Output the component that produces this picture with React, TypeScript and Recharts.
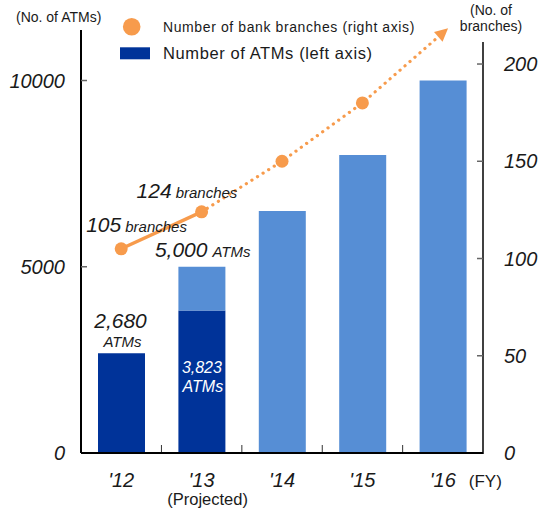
import { ComposedChart, Bar, Line, XAxis, YAxis, LabelList } from "recharts"

const years = ["'12", "'13", "'14", "'15", "'16"]
const atmsActual = [2680, 3823, 0, 0, 0]
const atmsPlanned = [0, 1177, 6500, 8000, 10000]
const atmsTotal = [2680, 5000, 6500, 8000, 10000]
const branchesActual = [105, 124, null, null, null]
const branchesPlanned = [null, 124, 150, 180, 216]
const leftTicks = [0, 5000, 10000]
const rightTicks = [0, 50, 100, 150, 200]

const colors = {
  dark: "#003399",
  light: "#568ED5",
  orange: "#F79B4C",
  text: "#1a1a1a",
}

const font = "'Liberation Sans', Arial, sans-serif"

const data = years.map((year, i) => ({
  year,
  atmsActual: atmsActual[i],
  atmsPlanned: atmsPlanned[i],
  branchesActual: branchesActual[i],
  branchesPlanned: branchesPlanned[i],
}))

const fmt = (v: number) => v.toLocaleString("en-US")

// labels may skip empty bars, so find the category from the payload (or the value)
function box(p: any, series: (number | null)[]) {
  const vb = p.viewBox || {}
  let index = years.indexOf(p.payload?.year)
  if (index < 0) {
    const v = Array.isArray(p.value) ? p.value[1] - p.value[0] : p.value
    index = series.indexOf(v)
  }
  return {
    x: p.x ?? vb.x ?? 0,
    y: p.y ?? vb.y ?? 0,
    width: p.width ?? vb.width ?? 0,
    index,
  }
}

function ActualBarLabel(p: any) {
  const { x, y, width, index } = box(p, atmsActual)
  const cx = x + width / 2
  if (index === 0) {
    return (
      <g fontFamily={font} fontStyle="italic" fill={colors.text} textAnchor="middle">
        <text x={cx - 1} y={y - 25} fontSize={21}>{fmt(atmsActual[0])}</text>
        <text x={cx + 1} y={y - 6} fontSize={15}>ATMs</text>
      </g>
    )
  }
  if (index === 1) {
    return (
      <g fontFamily={font} fontStyle="italic" fill="#fff" textAnchor="middle">
        <text x={cx} y={y + 62} fontSize={16}>{fmt(atmsActual[1])}</text>
        <text x={cx + 1} y={y + 81} fontSize={16}>ATMs</text>
      </g>
    )
  }
  return null
}

function PlannedBarLabel(p: any) {
  const { x, y, width, index } = box(p, atmsPlanned)
  if (index !== 1) return null
  return (
    <text x={x + width / 2 - 47} y={y - 10} fontFamily={font} fontStyle="italic" fill={colors.text}>
      <tspan fontSize={21}>{fmt(atmsTotal[1])}</tspan>
      <tspan fontSize={15} dx={5}>ATMs</tspan>
    </text>
  )
}

function BranchLabel(p: any) {
  const { x, y, index } = box(p, branchesActual)
  const v = branchesActual[index]
  if (v == null) return null
  const dx = index === 0 ? -35 : -65
  const dy = index === 0 ? -17 : -14
  return (
    <text x={x + dx} y={y + dy} fontFamily={font} fontStyle="italic" fill={colors.text}>
      <tspan fontSize={21}>{v}</tspan>
      <tspan fontSize={15} dx={4}>branches</tspan>
    </text>
  )
}

function PlannedDot(p: any) {
  const { cx, cy, index } = p
  if (cx == null || cy == null || index === 1) return <g key={`pd-${index}`} />
  if (index === years.length - 1) {
    return (
      <polygon
        key={`pd-${index}`}
        points="7,0 -6,-6.5 -6,6.5"
        fill={colors.orange}
        transform={`translate(${cx},${cy}) rotate(-41)`}
      />
    )
  }
  return <circle key={`pd-${index}`} cx={cx} cy={cy} r={6.5} fill={colors.orange} />
}

function LeftTick(p: any) {
  const { x, y, payload } = p
  return (
    <g>
      {payload.value !== 0 && <line x1={x} x2={x + 6} y1={y} y2={y} stroke="#666" strokeWidth={1.5} />}
      <text x={x - 16} y={y + 7} textAnchor="end" fontFamily={font} fontStyle="italic" fontSize={20} fill={colors.text}>
        {payload.value}
      </text>
    </g>
  )
}

function RightTick(p: any) {
  const { x, y, payload } = p
  return (
    <g>
      {payload.value === 0 ? (
        <line x1={x} x2={x} y1={y + 1} y2={y - 411} stroke="#000" strokeWidth={1.5} />
      ) : (
        <line x1={x - 6} x2={x} y1={y} y2={y} stroke="#666" strokeWidth={1.5} />
      )}
      <text x={x + 21} y={y + 7} fontFamily={font} fontStyle="italic" fontSize={20} fill={colors.text}>
        {payload.value}
      </text>
    </g>
  )
}

function YearTick(p: any) {
  const { x, y, payload, index } = p
  const half = 40.25
  return (
    <g fontFamily={font} fill={colors.text}>
      {index < years.length - 1 && (
        <line x1={x + half} x2={x + half} y1={y - 1} y2={y - 8} stroke="#333" strokeWidth={1} />
      )}
      <text x={x} y={y + 34} textAnchor="middle" fontStyle="italic" fontSize={20}>
        {payload.value}
      </text>
      {index === 1 && (
        <text x={x + 6} y={y + 52} textAnchor="middle" fontSize={16.5}>
          (Projected)
        </text>
      )}
      {index === years.length - 1 && (
        <text x={x + 26} y={y + 34} fontSize={17}>
          (FY)
        </text>
      )}
    </g>
  )
}

export default function App() {
  return (
    <div style={{ position: "absolute", left: 0, top: 0, width: 546, height: 508 }}>
      <ComposedChart
        width={546}
        height={508}
        data={data}
        margin={{ top: 30, right: 0, bottom: 0, left: 0 }}
      >
        <XAxis
          dataKey="year"
          interval={0}
          height={55}
          tickLine={false}
          tickSize={0}
          tickMargin={0}
          axisLine={{ stroke: "#000", strokeWidth: 2 }}
          tick={<YearTick />}
        />
        <YAxis
          yAxisId="left"
          width={81}
          domain={[0, 11356]}
          ticks={leftTicks}
          tickLine={false}
          tickSize={0}
          tickMargin={0}
          axisLine={{ stroke: "#000", strokeWidth: 2 }}
          tick={<LeftTick />}
        />
        <YAxis
          yAxisId="right"
          orientation="right"
          width={63}
          domain={[0, 217.5]}
          ticks={rightTicks}
          tickLine={false}
          tickSize={0}
          tickMargin={0}
          axisLine={false}
          tick={<RightTick />}
        />
        <Bar yAxisId="left" dataKey="atmsActual" stackId="atm" fill={colors.dark} barSize={47} isAnimationActive={false}>
          <LabelList dataKey="atmsActual" content={<ActualBarLabel />} />
        </Bar>
        <Bar yAxisId="left" dataKey="atmsPlanned" stackId="atm" fill={colors.light} barSize={47} isAnimationActive={false}>
          <LabelList dataKey="atmsPlanned" content={<PlannedBarLabel />} />
        </Bar>
        <Line
          yAxisId="right"
          dataKey="branchesActual"
          stroke={colors.orange}
          strokeWidth={3.4}
          dot={{ r: 6.5, fill: colors.orange, stroke: "none" }}
          activeDot={false}
          isAnimationActive={false}
        >
          <LabelList dataKey="branchesActual" content={<BranchLabel />} />
        </Line>
        <Line
          yAxisId="right"
          dataKey="branchesPlanned"
          stroke={colors.orange}
          strokeWidth={3.2}
          strokeDasharray="0.1 6.5"
          strokeLinecap="round"
          dot={PlannedDot}
          activeDot={false}
          isAnimationActive={false}
        />
      </ComposedChart>

      {/* legend and axis titles */}
      <svg
        width={546}
        height={508}
        style={{ position: "absolute", left: 0, top: 0, pointerEvents: "none" }}
        fontFamily={font}
        fill={colors.text}
      >
        <text x={16} y={22} fontSize={14}>(No. of ATMs)</text>
        <text x={491} y={15} fontSize={14} textAnchor="middle">(No. of</text>
        <text x={491} y={31} fontSize={14} textAnchor="middle">branches)</text>
        <circle cx={131.7} cy={26.7} r={8.8} fill={colors.orange} />
        <text x={163} y={31.5} fontSize={14} letterSpacing={0.6}>Number of bank branches (right axis)</text>
        <rect x={120} y={47.3} width={30} height={12} fill={colors.dark} />
        <text x={163} y={58.5} fontSize={16.5} letterSpacing={0.6}>Number of ATMs (left axis)</text>
      </svg>
    </div>
  )
}
